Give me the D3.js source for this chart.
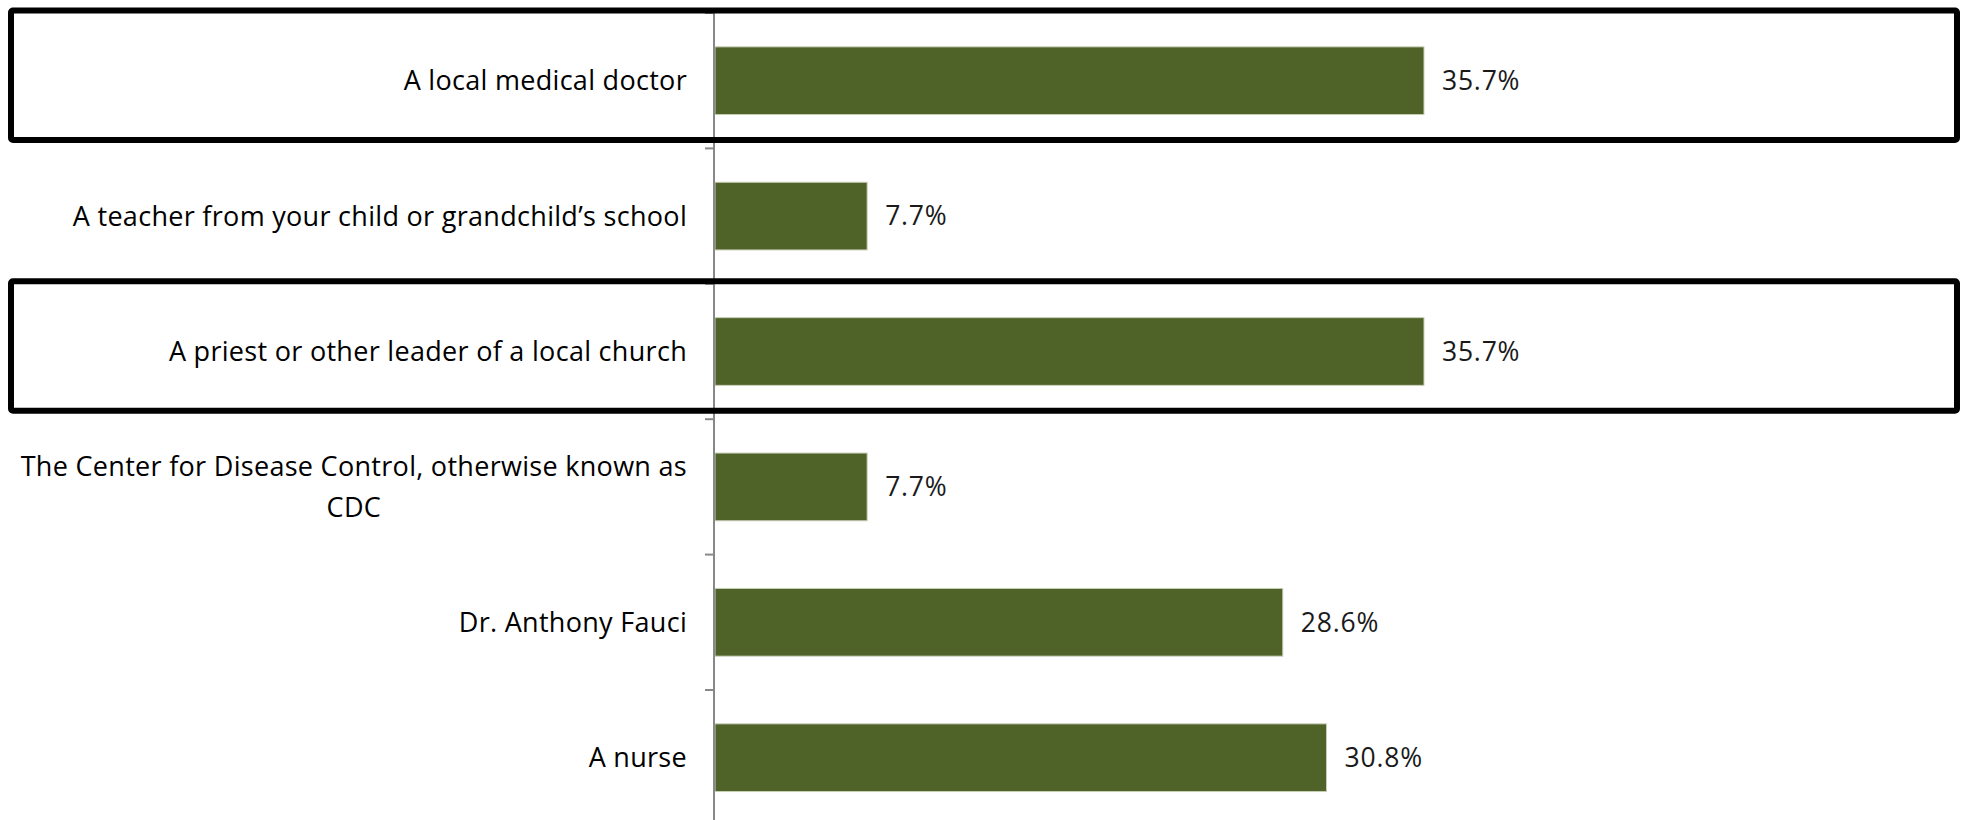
<!DOCTYPE html>
<html>
<head>
<meta charset="utf-8">
<script src="https://cdn.jsdelivr.net/npm/d3@7"></script>
<style>
  html, body { margin: 0; padding: 0; background: #fff; }
  svg { display: block; }
  .cat { font-family: "Open Sans", Lato, sans-serif; font-size: 27px; fill: #000; letter-spacing: 0.3px; }
  .val { font-family: "Open Sans", Lato, sans-serif; font-size: 26.5px; fill: #1a1a1a; letter-spacing: 0.8px; }
</style>
</head>
<body>
<svg id="chart"></svg>
<script>
// Размеры.
const width = 1965;
const height = 820;

// Данные: категории и доли.
const categories = [
  'A local medical doctor',
  'A teacher from your child or grandchild\u2019s school',
  'A priest or other leader of a local church',
  'The Center for Disease Control, otherwise known as CDC',
  'Dr. Anthony Fauci',
  'A nurse'
];
const values = [0.357, 0.077, 0.357, 0.077, 0.286, 0.308];

// Категории, обведённые рамкой.
const highlighted = ['A local medical doctor', 'A priest or other leader of a local church'];

const rows = categories.map((c, i) => ({ category: c, value: values[i] }));

const svg = d3.select('#chart')
  .attr('width', width)
  .attr('height', height);

// Шкалы.
const axisX = 714;
const x = d3.scaleLinear().domain([0, 0.4]).range([axisX, axisX + 795.5]);
const y = d3.scaleBand().domain(categories).range([13, 825.4])
  .paddingInner(0.5).paddingOuter(0.25);

const step = y.step();
const gap = (step - y.bandwidth()) / 2;

// Столбцы.
svg.append('g').selectAll('rect').data(rows).enter().append('rect')
  .attr('x', x(0) + 1)
  .attr('y', d => y(d.category))
  .attr('width', d => x(d.value) - x(0) - 1)
  .attr('height', y.bandwidth())
  .attr('fill', '#4F6228')
  .attr('stroke', '#c9cfb8')
  .attr('stroke-width', 1);

// Ось: линия и засечки на границах категорий.
const bounds = categories.map(c => y(c) - gap).concat([y(categories[categories.length - 1]) + y.bandwidth() + gap]);
const axis = svg.append('g');
axis.append('line')
  .attr('x1', axisX).attr('x2', axisX)
  .attr('y1', bounds[0]).attr('y2', bounds[bounds.length - 1])
  .attr('stroke', '#888').attr('stroke-width', 2);
axis.selectAll('.tick').data(bounds).enter().append('line')
  .attr('class', 'tick')
  .attr('x1', axisX - 9).attr('x2', axisX)
  .attr('y1', d => d).attr('y2', d => d)
  .attr('stroke', '#888').attr('stroke-width', 2);

// Подписи категорий (с переносом длинных строк).
const labelRight = axisX - 27;
const maxLabelWidth = 675;
const lineHeight = 41;

rows.forEach(d => {
  const cy = y(d.category) + y.bandwidth() / 2;
  const t = svg.append('text').attr('class', 'cat');
  const words = d.category.split(' ');
  let lines = [];
  let cur = [];
  words.forEach(w => {
    const test = cur.concat([w]).join(' ');
    t.text(test);
    if (t.node().getBBox().width > maxLabelWidth && cur.length) {
      lines.push(cur.join(' '));
      cur = [w];
    } else {
      cur.push(w);
    }
  });
  lines.push(cur.join(' '));

  if (lines.length === 1) {
    t.attr('x', labelRight).attr('y', cy).attr('dy', '0.35em')
      .attr('text-anchor', 'end').text(lines[0]);
  } else {
    // Несколько строк центрируются по самой длинной.
    const widths = lines.map(l => { t.text(l); return t.node().getBBox().width; });
    t.text('');
    const mid = labelRight - d3.max(widths) / 2;
    lines.forEach((l, i) => {
      t.append('tspan')
        .attr('x', mid)
        .attr('y', cy + (i - (lines.length - 1) / 2) * lineHeight)
        .attr('dy', '0.35em')
        .attr('text-anchor', 'middle')
        .text(l);
    });
  }
});

// Подписи значений.
svg.append('g').selectAll('text').data(rows).enter().append('text')
  .attr('class', 'val')
  .attr('x', d => x(d.value) + 18)
  .attr('y', d => y(d.category) + y.bandwidth() / 2)
  .attr('dy', '0.35em')
  .text(d => d3.format('.1%')(d.value));

// Рамки вокруг выделенных категорий.
svg.append('g').selectAll('rect').data(highlighted).enter().append('rect')
  .attr('x', 11)
  .attr('y', d => y(d) - gap - 2.5)
  .attr('width', 1946)
  .attr('height', step - 6)
  .attr('rx', 2)
  .attr('fill', 'none')
  .attr('stroke', '#000')
  .attr('stroke-width', 6);
</script>
</body>
</html>
